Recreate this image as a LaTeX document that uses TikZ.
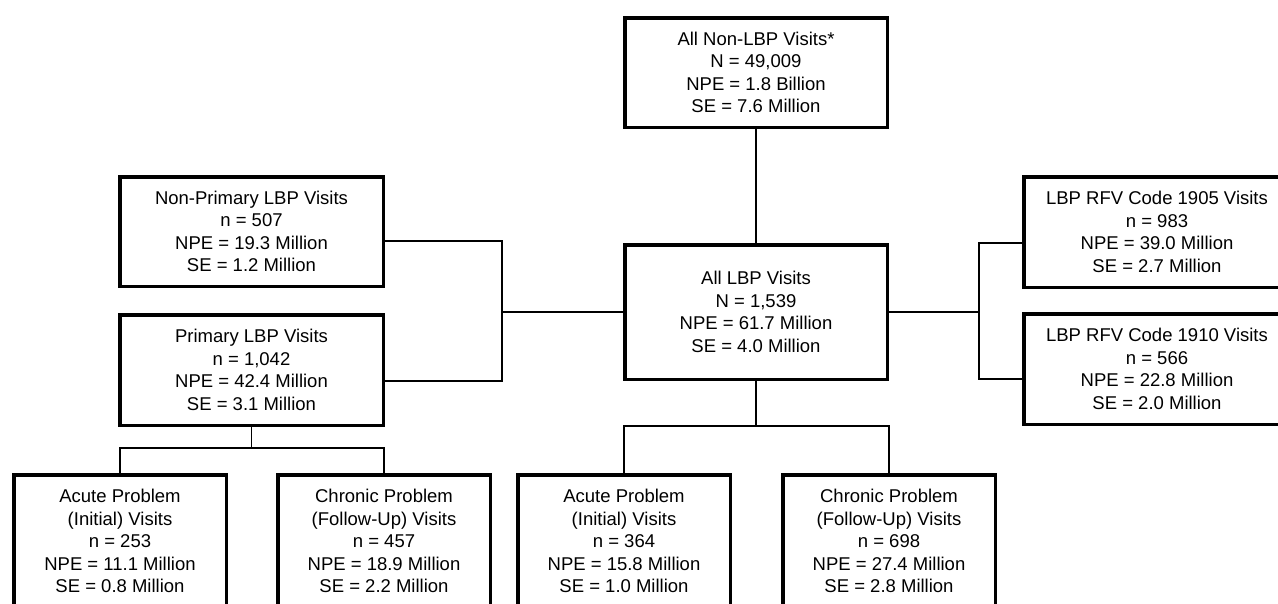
\documentclass[tikz,border=0pt]{standalone}
\usepackage{fontspec}
\setmainfont{Liberation Sans}
\begin{document}
\begin{tikzpicture}[x=1pt,y=-1pt,
  box/.style={draw=black,line width=3.5pt,align=center,inner sep=0pt,
    font=\fontsize{18.5}{22.5}\selectfont},
  link/.style={draw=black,line width=1.1pt}]
\useasboundingbox (0,0) rectangle (1278,603);
\clip (0,0) rectangle (1278,603);
% top row
\node[box,minimum width=262.5pt,minimum height=109.5pt] (top) at (756,72.5)
  {All Non-LBP Visits*\\N = 49,009\\NPE = 1.8 Billion\\SE = 7.6 Million};
\node[box,minimum width=262.5pt,minimum height=134.5pt] (all) at (756,312)
  {All LBP Visits\\N = 1,539\\NPE = 61.7 Million\\SE = 4.0 Million};
% left
\node[box,minimum width=263.5pt,minimum height=109.5pt] (np) at (251.5,231.5)
  {Non-Primary LBP Visits\\n = 507\\NPE = 19.3 Million\\SE = 1.2 Million};
\node[box,minimum width=263.5pt,minimum height=110.5pt] (pr) at (251.5,370)
  {Primary LBP Visits\\n = 1,042\\NPE = 42.4 Million\\SE = 3.1 Million};
% right
\node[box,minimum width=266.5pt,minimum height=110.5pt] (r1) at (1157,232)
  {LBP RFV Code 1905 Visits\\n = 983\\NPE = 39.0 Million\\SE = 2.7 Million};
\node[box,minimum width=266.5pt,minimum height=110.5pt] (r2) at (1157,369)
  {LBP RFV Code 1910 Visits\\n = 566\\NPE = 22.8 Million\\SE = 2.0 Million};
% bottom
\node[box,minimum width=212.5pt,minimum height=132.5pt] (b1) at (120,541)
  {Acute Problem\\(Initial) Visits\\n = 253\\NPE = 11.1 Million\\SE = 0.8 Million};
\node[box,minimum width=212.5pt,minimum height=132.5pt] (b2) at (384,541)
  {Chronic Problem\\(Follow-Up) Visits\\n = 457\\NPE = 18.9 Million\\SE = 2.2 Million};
\node[box,minimum width=212.5pt,minimum height=132.5pt] (b3) at (624,541)
  {Acute Problem\\(Initial) Visits\\n = 364\\NPE = 15.8 Million\\SE = 1.0 Million};
\node[box,minimum width=212.5pt,minimum height=132.5pt] (b4) at (889,541)
  {Chronic Problem\\(Follow-Up) Visits\\n = 698\\NPE = 27.4 Million\\SE = 2.8 Million};
% connectors
\draw[link] (top.south) -- (all.north);
\draw[link] (all.west) -- ++(-121,0) coordinate (jl);
\draw[link] ([yshift=-9.5pt]np.east) -| (jl) |- ([yshift=-11pt]pr.east);
\draw[link] (all.east) -- ++(90,0) coordinate (jr);
\draw[link] ([yshift=-11pt]r1.west) -| (jr) |- ([yshift=-10pt]r2.west);
\draw[link] (pr.south) -- ++(0,21) coordinate (jp);
\draw[link] (b1.north) |- (jp) -| (b2.north);
\draw[link] (all.south) -- ++(0,45) coordinate (ja);
\draw[link] (b3.north) |- (ja) -| (b4.north);
\end{tikzpicture}
\end{document}
